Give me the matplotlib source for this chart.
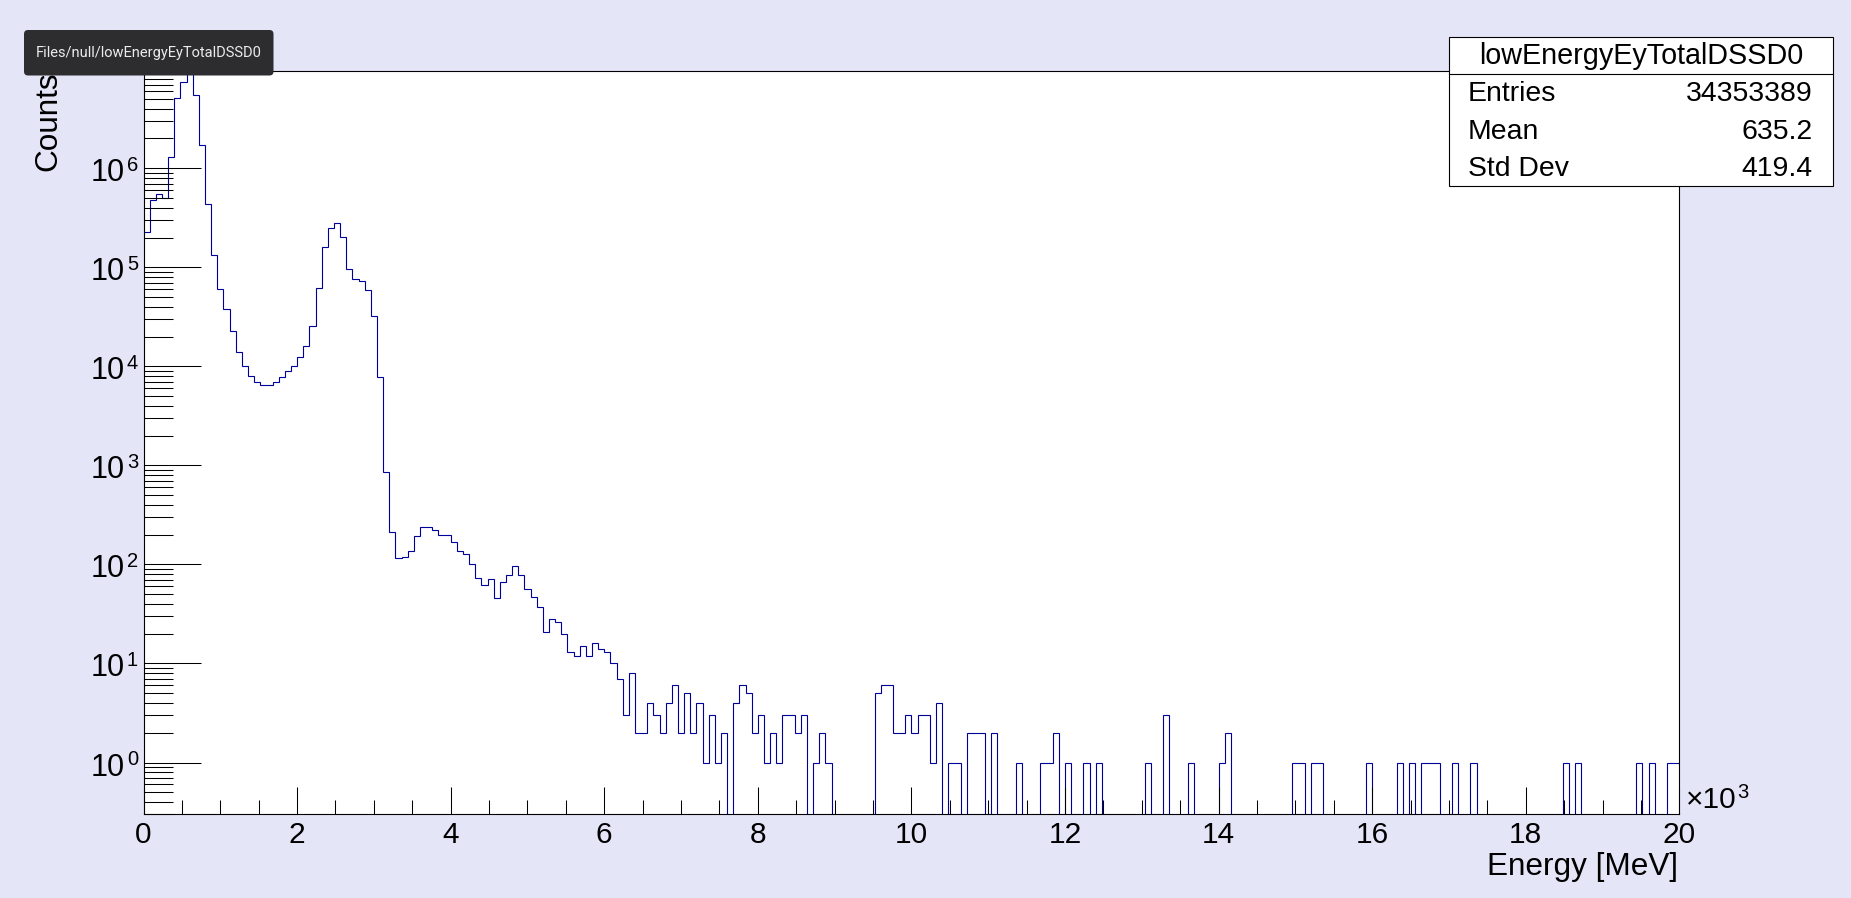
import numpy as np
import matplotlib
matplotlib.use('Agg')
import matplotlib.pyplot as plt
from matplotlib.patches import FancyBboxPatch, Rectangle
from matplotlib.lines import Line2D
from matplotlib.transforms import IdentityTransform, blended_transform_factory, ScaledTranslation
from matplotlib.ticker import FixedLocator, LogLocator, NullFormatter, MultipleLocator

plt.rcParams['font.family'] = ['Liberation Sans', 'DejaVu Sans']

# ---------------- data ----------------
hist_name = 'lowEnergyEyTotalDSSD0'
tooltip_text = 'Files/null/lowEnergyEyTotalDSSD0'
x_min, x_max, n_bins = 0, 20000, 250

counts = [
    226000, 479000, 554000, 501000, 1310000, 5090000, 7390000, 9300000, 5550000, 1720000,   # 0-9
    433000, 132000, 60400, 38300, 22600, 13900, 10000, 8050, 7010, 6490,                    # 10-19
    6540, 6960, 7760, 8930, 10200, 12500, 16100, 25400, 62400, 160000,                      # 20-29
    251000, 282000, 201000, 96900, 76300, 73300, 59500, 32500, 7760, 860,                   # 30-39
    212, 116, 118, 136, 194, 239, 239, 225, 199, 199,                                       # 40-49
    168, 136, 126, 102, 73, 62, 72, 46, 66, 79,                                             # 50-59
    97, 79, 57, 47, 37, 21, 28, 26, 20, 13,                                                 # 60-69
    12, 15, 12, 16, 14, 13, 10, 7, 3, 8,                                                    # 70-79
    2, 2, 4, 3, 2, 4, 6, 2, 5, 2,                                                           # 80-89
    4, 1, 3, 1, 2, 0, 4, 6, 5, 2,                                                           # 90-99
    3, 1, 2, 1, 3, 3, 2, 3, 0, 1,                                                           # 100-109
    2, 1, 0, 0, 0, 0, 0, 0, 0, 5,                                                           # 110-119
    6, 6, 2, 2, 3, 2, 3, 3, 1, 4,                                                           # 120-129
    0, 1, 1, 0, 2, 2, 2, 0, 2, 0,                                                           # 130-139
    0, 0, 1, 0, 0, 0, 1, 1, 2, 0,                                                           # 140-149
    1, 0, 0, 1, 0, 1, 0, 0, 0, 0,                                                           # 150-159
    0, 0, 0, 1, 0, 0, 3, 0, 0, 0,                                                           # 160-169
    1, 0, 0, 0, 0, 1, 2, 0, 0, 0,                                                           # 170-179
    0, 0, 0, 0, 0, 0, 0, 1, 1, 0,                                                           # 180-189
    1, 1, 0, 0, 0, 0, 0, 0, 0, 1,                                                           # 190-199
    0, 0, 0, 0, 1, 0, 1, 0, 1, 1,                                                           # 200-209
    1, 0, 0, 1, 0, 0, 1, 0, 0, 0,                                                           # 210-219
    0, 0, 0, 0, 0, 0, 0, 0, 0, 0,                                                           # 220-229
    0, 1, 0, 1, 0, 0, 0, 0, 0, 0,                                                           # 230-239
    0, 0, 0, 1, 0, 1, 0, 0, 1, 1,                                                           # 240-249
]

x_tick_values = [0, 2000, 4000, 6000, 8000, 10000, 12000, 14000, 16000, 18000, 20000]
x_tick_labels = ['0', '2', '4', '6', '8', '10', '12', '14', '16', '18', '20']
y_tick_values = [1e0, 1e1, 1e2, 1e3, 1e4, 1e5, 1e6]
y_tick_bases = ['10', '10', '10', '10', '10', '10', '10']
y_tick_exponents = ['0', '1', '2', '3', '4', '5', '6']
y_limits = (0.3, 9.6e6)

stats_labels = ['Entries', 'Mean', 'Std Dev']
stats_values = ['34353389', '635.2', '419.4']

x_title = 'Energy [MeV]'
y_title = 'Counts'
x_exp_base = '\u00d710'
x_exp_power = '3'

# ---------------- figure ----------------
W, H = 1851, 898
bg = '#e5e5f8'
fig = plt.figure(figsize=(W / 100, H / 100), dpi=100, facecolor=bg)

def fx(px):
    return px / W

def fy(py):
    return 1 - py / H

left, right, top, bottom = 143.5, 1679.3, 71.0, 814.3
ax = fig.add_axes([fx(left), fy(bottom), fx(right) - fx(left), fy(top) - fy(bottom)])
ax.set_facecolor('white')

edges = np.linspace(x_min, x_max, n_bins + 1)
vals = np.asarray(counts, dtype=float)
plot_vals = np.where(vals > 0, vals, 1e-3)
ax.set_yscale('log')
ax.stairs(plot_vals, edges, color='#000099', linewidth=0.8, baseline=None)

ax.set_xlim(x_min, x_max)
ax.set_ylim(*y_limits)

ax.xaxis.set_major_locator(FixedLocator(x_tick_values))
ax.set_xticklabels(x_tick_labels)
ax.xaxis.set_minor_locator(MultipleLocator(500))
ax.yaxis.set_major_locator(FixedLocator(y_tick_values))
ax.set_yticklabels([''] * len(y_tick_values))
ax.yaxis.set_minor_locator(LogLocator(base=10, subs=np.arange(2, 10), numticks=30))
ax.yaxis.set_minor_formatter(NullFormatter())

ax.tick_params(axis='x', which='major', direction='in', length=19.4, width=0.75, pad=5,
               labelsize=21.5, top=False, colors='black')
ax.tick_params(axis='x', which='minor', direction='in', length=10, width=0.75, top=False)
ax.tick_params(axis='y', which='major', direction='in', length=41, width=0.75, pad=3,
               labelsize=21.5, right=False)
ax.tick_params(axis='y', which='minor', direction='in', length=21, width=0.75, right=False)
for s in ax.spines.values():
    s.set_linewidth(0.8)
    s.set_color('black')

# y tick labels drawn as base + raised exponent (ROOT style)
blend = blended_transform_factory(fig.transFigure, ax.transData)
base_tr = blend + ScaledTranslation(0, -13.0 / 100, fig.dpi_scale_trans)
exp_tr = blend + ScaledTranslation(0, -2.5 / 100, fig.dpi_scale_trans)
for v, b, e in zip(y_tick_values, y_tick_bases, y_tick_exponents):
    ax.text(fx(124.5), v, b, transform=base_tr, ha='right', va='baseline',
            fontsize=22, clip_on=False)
    ax.text(fx(126.8), v, e, transform=exp_tr, ha='left', va='baseline',
            fontsize=14.5, clip_on=False)

# axis titles
fig.text(fx(1678), fy(875), x_title, ha='right', va='baseline', fontsize=22.7)
fig.text(fx(48.5), fy(71.7), y_title, ha='center', va='top', rotation=90, fontsize=22.7)

# x axis power-of-ten marker
t_base = fig.text(fx(1686.0), fy(808.3), x_exp_base, ha='left', va='baseline', fontsize=21.5)
fig.canvas.draw()
bb = t_base.get_window_extent()
fig.text((bb.x1 + 1) / W, fy(798.3), x_exp_power, ha='left', va='baseline', fontsize=14.5)

# stats box
bx0, bx1, by0, by1 = 1449.3, 1833.3, 37.3, 186.0
fig.add_artist(Rectangle((fx(bx0), fy(by1)), fx(bx1) - fx(bx0), fy(by0) - fy(by1),
                         transform=fig.transFigure, facecolor='white', edgecolor='black',
                         linewidth=0.8, zorder=5))
fig.add_artist(Line2D([fx(bx0), fx(bx1)], [fy(74), fy(74)], transform=fig.transFigure,
                      color='black', linewidth=0.8, zorder=6))
fig.text(fx((bx0 + bx1) / 2), fy(64.3), hist_name, ha='center', va='baseline',
         fontsize=20.7, zorder=7)
row_baselines = [100.8, 138.6, 175.8]
for lab, val, yb in zip(stats_labels, stats_values, row_baselines):
    fig.text(fx(1467.5), fy(yb), lab, ha='left', va='baseline', fontsize=20.4, zorder=7)
    fig.text(fx(1812.7), fy(yb), val, ha='right', va='baseline', fontsize=20.4, zorder=7)

# tooltip overlay
tip = FancyBboxPatch((24, H - 75.5), 249.5, 45.5, boxstyle='round,pad=0,rounding_size=4',
                     transform=IdentityTransform(), facecolor='#2d2d30', edgecolor='none',
                     zorder=10)
fig.add_artist(tip)
fig.text(fx(148.75), fy(52.7), tooltip_text, ha='center', va='center', color='#ececec',
         fontsize=10.5, family=['Roboto', 'DejaVu Sans'], zorder=11)

fig.savefig('out.png', dpi=100, facecolor=bg)
